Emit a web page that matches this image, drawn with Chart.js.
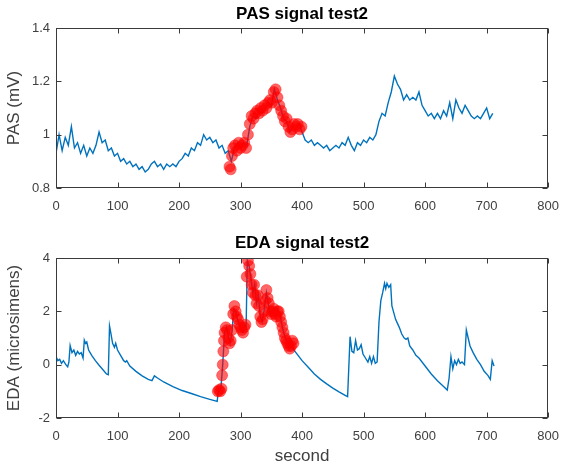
<!DOCTYPE html>
<html>
<head>
<meta charset="utf-8">
<script src="https://cdn.jsdelivr.net/npm/chart.js@4.4.1/dist/chart.umd.min.js"></script>
<style>
  html, body { margin: 0; padding: 0; background: #fff; }
  canvas { display: block; }
</style>
</head>
<body>
<canvas id="pasCanvas" width="570" height="230"></canvas>
<canvas id="edaCanvas" width="570" height="235"></canvas>
<script>
// PAS signal, one sample every 5 s starting at 0 s
const pasStep = 5;
const pasValues = [
  0.93, 1.00, 0.94, 0.99, 0.96, 1.03, 0.95, 0.97, 0.93, 0.96,
  0.92, 0.95, 0.93, 0.96, 1.01, 0.97, 0.98, 0.94, 0.95, 0.92,
  0.93, 0.90, 0.91, 0.89, 0.90, 0.88, 0.89, 0.87, 0.88, 0.86,
  0.87, 0.89, 0.90, 0.88, 0.89, 0.87, 0.89, 0.88, 0.89, 0.88,
  0.90, 0.91, 0.93, 0.92, 0.95, 0.94, 0.97, 0.96, 1.00, 0.98,
  0.99, 0.97, 0.98, 0.95, 0.96, 0.93, 0.94, 0.90, 0.95, 0.97,
  0.95, 0.97, 0.96, 1.03, 1.07, 1.06, 1.09, 1.08, 1.10, 1.12,
  1.11, 1.17, 1.13, 1.10, 1.06, 1.05, 1.01, 1.03, 1.02, 1.04,
  1.01, 0.98, 0.97, 0.98, 0.96, 0.97, 0.96, 0.95, 0.96, 0.94,
  0.95, 0.96, 0.95, 0.97, 0.96, 0.99, 0.96, 0.94, 0.97, 0.96,
  0.98, 0.97, 0.99, 0.98, 1.00, 1.05, 1.08, 1.07, 1.12, 1.16,
  1.22, 1.19, 1.17, 1.13, 1.15, 1.13, 1.14, 1.13, 1.16, 1.11,
  1.09, 1.07, 1.08, 1.06, 1.08, 1.06, 1.09, 1.07, 1.12, 1.06,
  1.13, 1.10, 1.08, 1.11, 1.09, 1.07, 1.06, 1.07, 1.06, 1.08,
  1.10, 1.06, 1.08
];

// PAS highlighted segment (red circles)
const pasMarkSeconds = [282, 284, 286, 288, 291, 294, 297, 300, 303, 306, 309, 312, 315, 318, 321, 324, 327, 330, 333, 336, 339, 342, 345, 348, 351, 354, 357, 360, 363, 366, 369, 372, 375, 378, 381, 384, 387, 390, 393, 396, 399];
const pasMarkValues = [0.88, 0.87, 0.92, 0.95, 0.96, 0.94, 0.97, 0.95, 0.96, 0.97, 0.95, 1.00, 1.04, 1.07, 1.06, 1.08, 1.09, 1.08, 1.10, 1.09, 1.11, 1.10, 1.12, 1.13, 1.12, 1.16, 1.17, 1.14, 1.11, 1.09, 1.07, 1.05, 1.06, 1.03, 1.01, 1.02, 1.04, 1.03, 1.04, 1.02, 1.03];

// EDA signal
const edaSeconds = [
  0, 3, 6, 9, 12, 16, 19, 21, 23, 26, 29, 32, 35, 38, 41, 44, 46, 48, 50, 53,
  58, 64, 70, 76, 82, 85, 87, 89, 92, 95, 97, 100, 105, 110, 113, 115, 120, 130, 140, 150,
  156, 160, 165, 175, 190, 205, 220, 235, 250, 262, 264, 268, 271, 274, 277, 280, 283, 286, 289, 292,
  295, 298, 301, 304, 307, 309, 311, 314, 317, 320, 323, 326, 329, 332, 335, 338, 342, 345, 348, 351,
  354, 357, 360, 364, 367, 370, 373, 376, 379, 382, 385, 390, 400, 410, 420, 430, 440, 450, 460, 470,
  474, 478, 481, 484, 487, 490, 493, 496, 499, 503, 507, 510, 513, 516, 519, 522, 525, 528, 531, 534,
  536, 538, 541, 544, 546, 549, 552, 555, 558, 562, 566, 569, 572, 575, 580, 585, 590, 600, 610, 620,
  630, 636, 639, 642, 645, 648, 651, 654, 657, 660, 664, 667, 670, 673, 678, 684, 690, 696, 702, 706,
  709, 712
];
const edaValues = [
  0.30, 0.15, 0.20, 0.05, 0.15, 0.00, -0.08, 0.10, 0.72, 0.45, 0.55, 0.35, 0.50, 0.40, 0.45, 0.25, 0.92, 0.80, 0.85, 0.55,
  0.35, 0.15, -0.02, -0.18, -0.35, -0.38, 1.45, 1.20, 0.80, 0.65, 0.80, 0.55, 0.35, 0.15, 0.10, 0.15, -0.05, -0.25, -0.42, -0.55,
  -0.60, -0.42, -0.50, -0.65, -0.82, -0.97, -1.08, -1.20, -1.30, -1.38, -0.95, -0.90, 0.00, 1.20, 1.40, 1.10, 0.80, 1.20, 2.10, 2.00,
  1.70, 1.50, 1.30, 1.20, 1.50, 1.40, 3.90, 3.70, 3.20, 2.70, 3.00, 2.30, 2.60, 1.80, 1.60, 2.00, 2.70, 2.30, 1.90, 2.00,
  2.10, 1.80, 2.05, 1.90, 1.50, 1.20, 1.00, 0.80, 0.60, 0.75, 0.60, 0.45, 0.15, -0.10, -0.35, -0.55, -0.72, -0.88, -1.02, -1.15,
  -1.20, 1.05, 0.50, 0.45, 0.90, 0.55, 0.60, 0.75, 0.40, 0.25, 0.10, 0.30, 0.05, 0.30, 0.05, 0.10, 1.60, 2.40, 2.70, 3.05,
  2.85, 3.05, 2.90, 3.00, 2.20, 1.95, 1.70, 1.55, 1.40, 1.15, 1.00, 0.95, 1.00, 0.70, 0.55, 0.35, 0.25, -0.05, -0.35, -0.60,
  -0.82, -0.95, -0.50, 0.30, -0.15, 0.15, 0.00, 0.20, 0.05, 0.10, 0.00, 1.30, 1.00, 0.70, 0.45, 0.20, 0.00, -0.25, -0.40, -0.55,
  0.15, -0.05
];

// EDA highlighted segment (red circles)
const edaMarkSeconds = [263, 265, 267, 269, 270, 271, 272, 273, 274, 276, 278, 280, 282, 284, 286, 288, 290, 292, 294, 296, 298, 300, 302, 304, 306, 308, 310, 312, 314, 316, 318, 320, 322, 324, 326, 328, 330, 332, 334, 336, 338, 340, 342, 344, 346, 348, 350, 352, 354, 356, 358, 360, 362, 364, 366, 368, 370, 372, 374, 376, 378, 380, 382, 384, 386];
const edaMarkValues = [-1.00, -0.95, -1.00, -0.90, -0.40, 0.00, 0.50, 0.90, 1.20, 1.40, 1.30, 1.00, 0.80, 0.90, 1.30, 1.90, 2.20, 2.00, 1.80, 1.70, 1.50, 1.40, 1.30, 1.20, 1.40, 1.50, 3.30, 3.90, 3.70, 3.40, 3.00, 2.70, 3.00, 2.60, 2.30, 2.60, 2.20, 1.80, 1.60, 1.70, 2.00, 2.40, 2.80, 2.50, 2.30, 2.00, 1.90, 2.00, 2.10, 1.90, 1.80, 2.00, 2.00, 1.80, 1.60, 1.40, 1.20, 1.00, 0.90, 0.80, 0.70, 0.60, 0.70, 0.90, 0.80];

const secondTicks = [0, 100, 200, 300, 400, 500, 600, 700, 800];
const pasTicks = [0.8, 1, 1.2, 1.4];
const edaTicks = [-2, 0, 2, 4];

Chart.defaults.font.family = "'Liberation Sans', Arial, sans-serif";

const axisColor = "#3a3a3a";
const labelColor = "#404040";

// MATLAB-like box with inward ticks, plus bold title
const frameBox = {
  id: "frameBox",
  afterDraw(chart, args, opts) {
    const { ctx, chartArea: a, scales } = chart;
    const tick = 5;
    ctx.save();
    ctx.strokeStyle = axisColor;
    ctx.lineWidth = 1;
    const l = Math.round(a.left) + 0.5;
    const r = Math.round(a.right) - 0.5;
    const t = Math.round(a.top) + 0.5;
    const b = Math.round(a.bottom) - 0.5;
    ctx.strokeRect(l, t, r - l, b - t);
    ctx.beginPath();
    scales.x.ticks.forEach((tk) => {
      const px = Math.round(scales.x.getPixelForValue(tk.value)) + 0.5;
      ctx.moveTo(px, b); ctx.lineTo(px, b - tick);
      ctx.moveTo(px, t); ctx.lineTo(px, t + tick);
    });
    scales.y.ticks.forEach((tk) => {
      const py = Math.round(scales.y.getPixelForValue(tk.value)) + 0.5;
      ctx.moveTo(l, py); ctx.lineTo(l + tick, py);
      ctx.moveTo(r, py); ctx.lineTo(r - tick, py);
    });
    ctx.stroke();

    ctx.fillStyle = "#000";
    ctx.font = "bold 17px 'Liberation Sans', Arial, sans-serif";
    ctx.textAlign = "center";
    ctx.textBaseline = "middle";
    ctx.fillText(opts.text, (a.left + a.right) / 2, opts.y);
    ctx.restore();
  },
};

function makeChart(canvas, lineData, markData, yTicks, yLabel, xLabel, titleText, titleY, xAxisHeight) {
  return new Chart(canvas.getContext("2d"), {
    type: "scatter",
    data: {
      datasets: [
        {
          data: markData,
          showLine: false,
          pointRadius: 5.5,
          pointBackgroundColor: "rgba(255, 0, 0, 0.6)",
          pointBorderColor: "rgba(255, 0, 0, 0.4)",
          pointBorderWidth: 1,
          order: 0,
        },
        {
          data: lineData,
          showLine: true,
          borderColor: "#0072BD",
          borderWidth: 1.4,
          pointRadius: 0,
          tension: 0,
          order: 1,
        },
      ],
    },
    options: {
      responsive: false,
      animation: false,
      devicePixelRatio: 1,
      layout: { padding: { top: 28, right: 15, left: 0, bottom: 0 } },
      plugins: {
        legend: { display: false },
        tooltip: { enabled: false },
        frameBox: { text: titleText, y: titleY },
      },
      scales: {
        x: {
          type: "linear",
          min: secondTicks[0],
          max: secondTicks[secondTicks.length - 1],
          afterBuildTicks: (s) => { s.ticks = secondTicks.map((v) => ({ value: v })); },
          afterFit: (s) => { s.height = xAxisHeight; },
          grid: { display: false, drawTicks: false },
          border: { display: false },
          ticks: {
            padding: 11,
            color: labelColor,
            font: { size: 13 },
            maxRotation: 0,
            callback: (v) => String(v),
          },
          title: {
            display: !!xLabel,
            text: xLabel,
            color: labelColor,
            font: { size: 17, lineHeight: 1 },
            padding: { top: 0, bottom: 0 },
          },
        },
        y: {
          type: "linear",
          min: yTicks[0],
          max: yTicks[yTicks.length - 1],
          afterBuildTicks: (s) => { s.ticks = yTicks.map((v) => ({ value: v })); },
          afterFit: (s) => { s.width = 56; },
          grid: { display: false, drawTicks: false },
          border: { display: false },
          ticks: {
            padding: 6,
            color: labelColor,
            font: { size: 13 },
            callback: (v) => String(v),
          },
          title: {
            display: true,
            text: yLabel,
            color: labelColor,
            font: { size: 17, lineHeight: 1 },
            padding: { top: 6, bottom: 0 },
          },
        },
      },
    },
    plugins: [frameBox],
  });
}

const pasLine = pasValues.map((v, i) => ({ x: i * pasStep, y: v }));
const pasMarks = pasMarkSeconds.map((s, i) => ({ x: s, y: pasMarkValues[i] }));
const edaLine = edaSeconds.map((s, i) => ({ x: s, y: edaValues[i] }));
const edaMarks = edaMarkSeconds.map((s, i) => ({ x: s, y: edaMarkValues[i] }));

makeChart(document.getElementById("pasCanvas"), pasLine, pasMarks, pasTicks,
  "PAS (mV)", "", "PAS signal test2", 14, 42);
makeChart(document.getElementById("edaCanvas"), edaLine, edaMarks, edaTicks,
  "EDA (microsimens)", "second", "EDA signal test2", 13, 47);
</script>
</body>
</html>
